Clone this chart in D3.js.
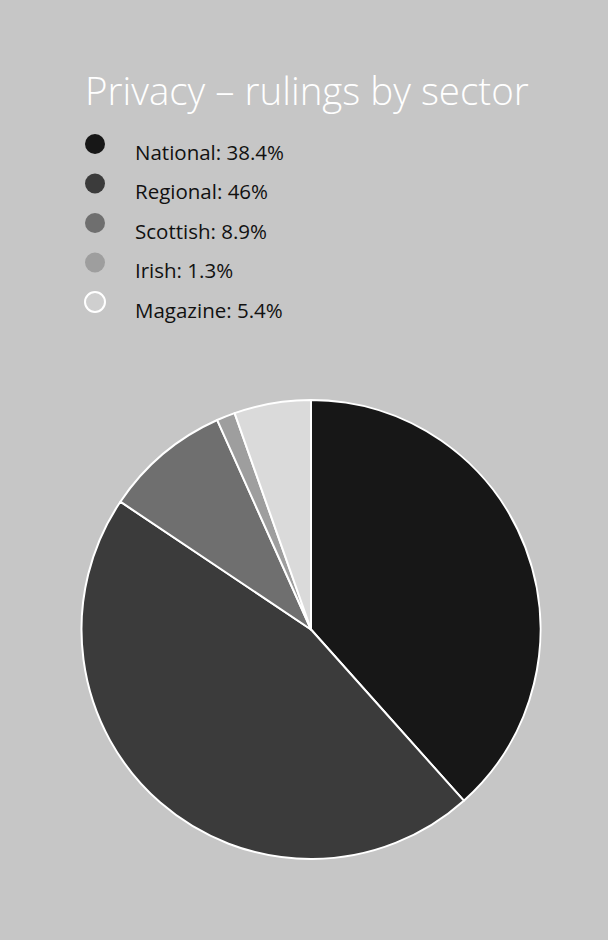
<!DOCTYPE html>
<html>
<head>
<meta charset="utf-8">
<script src="https://cdn.jsdelivr.net/npm/d3@7"></script>
<style>
  body { margin: 0; background: #c6c6c6; }
  svg { display: block; }
</style>
</head>
<body>
<svg id="chart"></svg>
<script>
// data
var sectors = ["National", "Regional", "Scottish", "Irish", "Magazine"];
var shares = [38.4, 46, 8.9, 1.3, 5.4];
var shareLabels = ["38.4%", "46%", "8.9%", "1.3%", "5.4%"];
var sectorColours = ["#171717", "#3b3b3b", "#6f6f6f", "#9e9e9e", "#dadada"];

var width = 608;
var height = 940;

var svg = d3.select("#chart")
  .attr("width", width)
  .attr("height", height);

svg.append("rect")
  .attr("width", width)
  .attr("height", height)
  .attr("fill", "#c6c6c6");

// title
svg.append("text")
  .attr("x", 85)
  .attr("y", 105)
  .attr("fill", "#ffffff")
  .style("font-family", "'Open Sans', sans-serif")
  .style("font-weight", 300)
  .style("font-size", "38.5px")
  .text("Privacy \u2013 rulings by sector");

// legend
var colour = d3.scaleOrdinal().domain(sectors).range(sectorColours);
var legendY = d3.scalePoint().domain(sectors).range([144, 302]);

var legend = svg.append("g")
  .selectAll("g")
  .data(sectors)
  .join("g")
  .attr("transform", d => `translate(0,${legendY(d)})`);

legend.append("circle")
  .attr("cx", 95)
  .attr("r", 10)
  .attr("fill", d => d === "Magazine" ? "#cfcfcf" : colour(d))
  .attr("stroke", d => d === "Magazine" ? "#ffffff" : "none")
  .attr("stroke-width", 2);

legend.append("text")
  .attr("x", 135)
  .attr("y", 15.5)
  .attr("fill", "#111")
  .style("font-family", "'Open Sans', sans-serif")
  .style("font-size", "20.5px")
  .text((d, i) => `${d}: ${shareLabels[i]}`);

// pie
var radius = 229.5;
var pie = d3.pie().sort(null).value(d => d);
var arc = d3.arc().innerRadius(0).outerRadius(radius);

var g = svg.append("g")
  .attr("transform", "translate(311,629.5)");

g.selectAll("path")
  .data(pie(shares))
  .join("path")
  .attr("d", arc)
  .attr("fill", (d, i) => colour(sectors[i]))
  .attr("stroke", "#ffffff")
  .attr("stroke-width", 2)
  .attr("stroke-linejoin", "round");
</script>
</body>
</html>
